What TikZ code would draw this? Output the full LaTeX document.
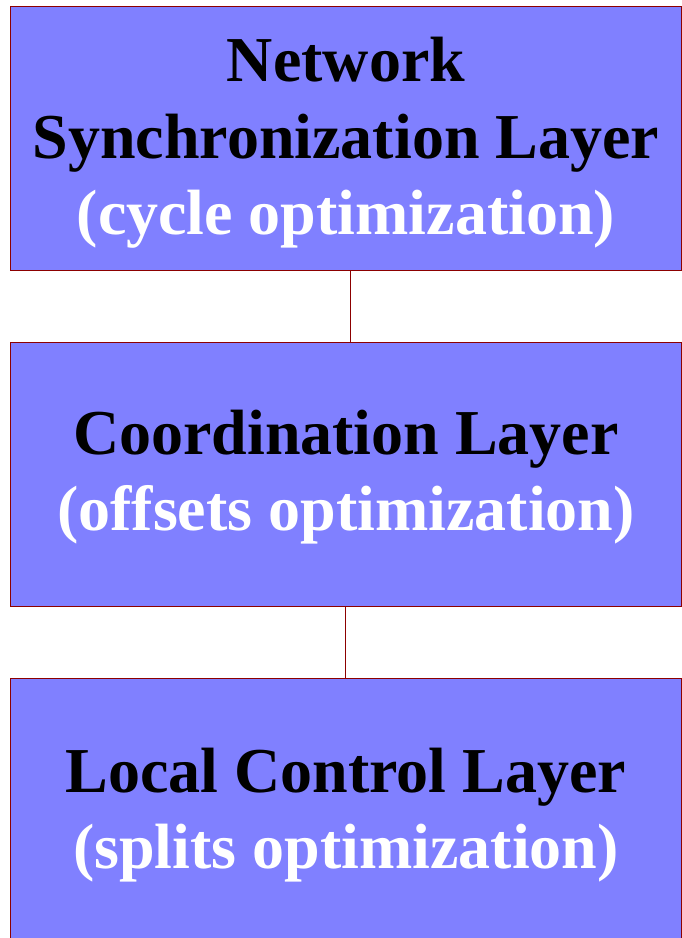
\documentclass[tikz,border=0pt]{standalone}
\usepackage{fontspec}
\setmainfont{Liberation Serif}
\definecolor{boxfill}{RGB}{128,128,255}
\definecolor{boxline}{RGB}{140,0,0}
\newcommand{\topstrut}{\rule{0pt}{53pt}}
\begin{document}
\begin{tikzpicture}[x=1pt,y=-1pt,
  layerbox/.style={draw=boxline, line width=1.4pt, fill=boxfill, rectangle,
    minimum width=671.5pt, minimum height=264pt, inner sep=0pt, anchor=north west,
    align=center, font=\fontsize{64}{76.5}\selectfont\bfseries, text=black},
  link/.style={draw=boxline, line width=1.6pt}]
\useasboundingbox (0,0) rectangle (682,938);
\node[layerbox] (b1) at (9.5,6) {\topstrut Network\\Synchronization Layer\\\textcolor{white}{(cycle optimization)}};
\node[layerbox] (b2) at (9.5,342) {\rule{0pt}{49pt}Coordination Layer\\\textcolor{white}{(offsets optimization)}};
\node[layerbox] (b3) at (9.5,678) {\topstrut Local Control Layer\\\textcolor{white}{(splits optimization)}};
\draw[link] (b1.south -| 350.5,0) -- (b2.north -| 350.5,0);
\draw[link] (b2.south -| 345.5,0) -- (b3.north -| 345.5,0);
\end{tikzpicture}
\end{document}
